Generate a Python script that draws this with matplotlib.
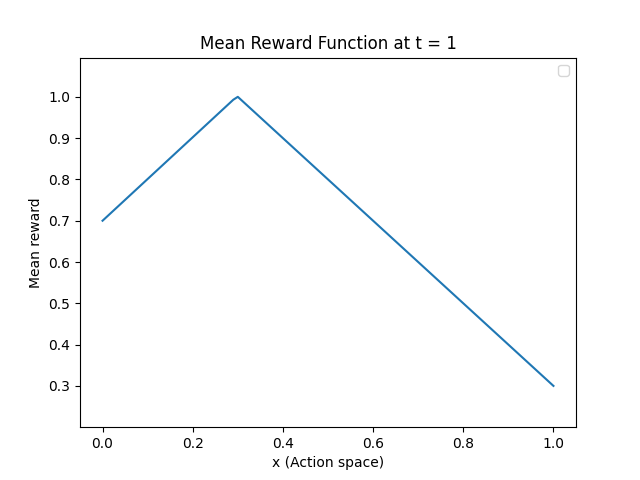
import matplotlib
matplotlib.use("Agg")
import matplotlib.pyplot as plt

x_vals = [0.0, 0.29, 0.30, 1.0]
reward = [0.7, 0.993, 1.0, 0.3]
y_ticks = [0.3, 0.4, 0.5, 0.6, 0.7, 0.8, 0.9, 1.0]

fig, ax = plt.subplots(figsize=(6.4, 4.8), dpi=100)
ax.plot(x_vals, reward)
ax.set_ylim(0.2, 1.095)
ax.set_yticks(y_ticks)
ax.set_title("Mean Reward Function at t = 1")
ax.set_xlabel("x (Action space)")
ax.set_ylabel("Mean reward")
ax.legend()
fig.savefig("out.png")
